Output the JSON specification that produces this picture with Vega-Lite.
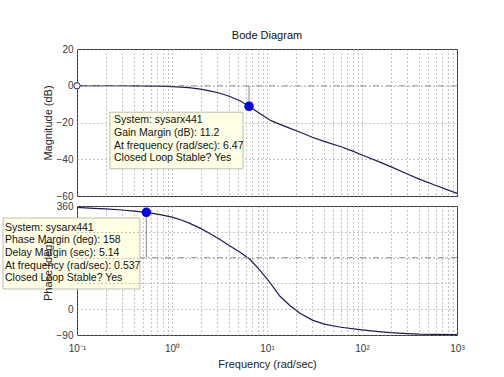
{
  "$schema": "https://vega.github.io/schema/vega-lite/v6.json",
  "padding": {"left": 1, "top": 29, "right": 5, "bottom": 5},
  "background": "white",
  "spacing": -2,
  "config": {
    "font": "Liberation Sans",
    "view": {"stroke": "#333333", "strokeWidth": 1},
    "axis": {
      "gridColor": "#8a8a8a",
      "gridDash": [1, 3],
      "gridOpacity": 1,
      "gridWidth": 1,
      "labelFont": "Liberation Sans",
      "labelFontSize": 10,
      "labelColor": "#3a3a3a",
      "titleFont": "Liberation Sans",
      "titleFontWeight": "normal",
      "titleFontSize": 11,
      "titleColor": "#222222",
      "domain": false,
      "ticks": false,
      "labelFlush": false,
      "labelOverlap": false
    }
  },
  "datasets": {
    "mag": [
      {"f": 0.1, "v": 0}, {"f": 0.15, "v": 0}, {"f": 0.2, "v": 0}, {"f": 0.3, "v": 0},
      {"f": 0.4, "v": -0.05}, {"f": 0.5, "v": -0.1}, {"f": 0.6, "v": -0.15}, {"f": 0.75, "v": -0.25},
      {"f": 1, "v": -0.45}, {"f": 1.25, "v": -0.7}, {"f": 1.5, "v": -1.0}, {"f": 2, "v": -1.8},
      {"f": 2.5, "v": -2.8}, {"f": 3.2, "v": -4.1}, {"f": 4, "v": -5.7}, {"f": 5.2, "v": -8.2},
      {"f": 6.47, "v": -11.2}, {"f": 8.4, "v": -15.1}, {"f": 11, "v": -19}, {"f": 13.7, "v": -21},
      {"f": 17.5, "v": -23.2}, {"f": 22.3, "v": -25.3}, {"f": 30, "v": -28}, {"f": 40, "v": -30.3},
      {"f": 60, "v": -33.2}, {"f": 80, "v": -35.6}, {"f": 100, "v": -37.7}, {"f": 150, "v": -41.3},
      {"f": 200, "v": -44}, {"f": 300, "v": -48}, {"f": 400, "v": -50.8}, {"f": 600, "v": -54.3},
      {"f": 1000, "v": -58.6}
    ],
    "phase": [
      {"f": 0.1, "v": 355}, {"f": 0.15, "v": 352}, {"f": 0.2, "v": 350}, {"f": 0.3, "v": 346},
      {"f": 0.4, "v": 342}, {"f": 0.537, "v": 338}, {"f": 0.75, "v": 330}, {"f": 1, "v": 321},
      {"f": 1.25, "v": 311}, {"f": 1.5, "v": 301}, {"f": 2, "v": 282}, {"f": 2.5, "v": 264},
      {"f": 3.2, "v": 243}, {"f": 4, "v": 222}, {"f": 5.2, "v": 199}, {"f": 6.6, "v": 174},
      {"f": 8.4, "v": 136}, {"f": 10.8, "v": 92}, {"f": 13.7, "v": 45}, {"f": 17.5, "v": 12},
      {"f": 22.3, "v": -14}, {"f": 30, "v": -38}, {"f": 40, "v": -52}, {"f": 60, "v": -63},
      {"f": 100, "v": -72}, {"f": 150, "v": -78}, {"f": 200, "v": -82}, {"f": 300, "v": -85},
      {"f": 400, "v": -87}, {"f": 600, "v": -88}, {"f": 1000, "v": -88.5}
    ],
    "gm": [{"f": 6.47, "v": -11.2, "ref": 0}],
    "pm": [{"f": 0.537, "v": 338, "ref": 180}],
    "gmbox": [{"f": 0.222, "f2": 5.59, "v": -14.4, "v2": -45.2, "tf": 0.245, "tv": -16.0,
      "text": ["System: sysarx441", "Gain Margin (dB): 11.2", "At frequency (rad/sec): 6.47", "Closed Loop Stable? Yes"]}],
    "pmbox": [{"f": 0.01663, "f2": 0.46, "v": 318.1, "v2": 70.5, "tf": 0.01746, "tv": 302.4,
      "text": ["System: sysarx441", "Phase Margin (deg): 158", "Delay Margin (sec): 5.14", "At frequency (rad/sec): 0.537", "Closed Loop Stable? Yes"]}]
  },
  "vconcat": [
    {
      "width": 380,
      "height": 147,
      "title": {"text": "Bode Diagram", "frame": "group", "fontSize": 11, "fontWeight": "normal", "offset": 3, "color": "#111111", "font": "Liberation Sans"},
      "layer": [
        {
          "data": {"name": "mag"},
          "mark": {"type": "line", "color": "#1c1c5c", "strokeWidth": 1.2},
          "encoding": {
            "x": {"field": "f", "type": "quantitative",
              "scale": {"type": "log", "domain": [0.1, 1000], "nice": false},
              "axis": {"values": [0.1,0.2,0.3,0.4,0.5,0.6,0.7,0.8,0.9,1,2,3,4,5,6,7,8,9,10,20,30,40,50,60,70,80,90,100,200,300,400,500,600,700,800,900,1000],
                "tickCount": 200, "labels": false, "title": null, "grid": true, "labelPadding": 0, "minExtent": 0, "maxExtent": 0, "offset": 0}},
            "y": {"field": "v", "type": "quantitative",
              "scale": {"domain": [-60, 20], "nice": false},
              "axis": {"values": [-60, -40, -20, 0, 20], "tickCount": 200, "format": "d", "title": "Magnitude (dB)", "labelPadding": 4, "titlePadding": 3, "grid": true, "labelOverlap": false}}
          }
        },
        {
          "data": {"name": "gm"},
          "mark": {"type": "rule", "color": "#9a9a9a", "strokeDash": [6, 3, 1, 3], "strokeWidth": 1},
          "encoding": {"y": {"field": "ref", "type": "quantitative"}}
        },
        {
          "data": {"name": "gm"},
          "mark": {"type": "rule", "color": "#8a8a8a", "strokeWidth": 1},
          "encoding": {
            "x": {"field": "f", "type": "quantitative"},
            "y": {"field": "v", "type": "quantitative"},
            "y2": {"field": "ref"}
          }
        },
        {
          "data": {"name": "mag"},
          "transform": [{"filter": "datum.f == 0.1"}],
          "mark": {"type": "point", "shape": "circle", "filled": true, "fill": "white", "stroke": "#1c1c5c", "strokeWidth": 1, "size": 40, "opacity": 1},
          "encoding": {
            "x": {"field": "f", "type": "quantitative"},
            "y": {"field": "v", "type": "quantitative"}
          }
        },
        {
          "data": {"name": "gm"},
          "mark": {"type": "point", "shape": "circle", "filled": true, "color": "#0000ee", "size": 90, "opacity": 1},
          "encoding": {
            "x": {"field": "f", "type": "quantitative"},
            "y": {"field": "v", "type": "quantitative"}
          }
        },
        {
          "data": {"name": "gmbox"},
          "mark": {"type": "rect", "fill": "#ffffe6", "stroke": "#bdbdae", "strokeWidth": 1},
          "encoding": {
            "x": {"field": "f", "type": "quantitative"},
            "x2": {"field": "f2"},
            "y": {"field": "v", "type": "quantitative"},
            "y2": {"field": "v2"}
          }
        },
        {
          "data": {"name": "gmbox"},
          "mark": {"type": "text", "align": "left", "baseline": "top", "fontSize": 10.5, "lineHeight": 12.7, "color": "#111111", "font": "Liberation Sans"},
          "encoding": {
            "x": {"field": "tf", "type": "quantitative"},
            "y": {"field": "tv", "type": "quantitative"},
            "text": {"field": "text"}
          }
        }
      ]
    },
    {
      "width": 380,
      "height": 129,
      "layer": [
        {
          "data": {"name": "phase"},
          "mark": {"type": "line", "color": "#1c1c5c", "strokeWidth": 1.2},
          "encoding": {
            "x": {"field": "f", "type": "quantitative",
              "scale": {"type": "log", "domain": [0.1, 1000], "nice": false},
              "axis": {"values": [0.1,0.2,0.3,0.4,0.5,0.6,0.7,0.8,0.9,1,2,3,4,5,6,7,8,9,10,20,30,40,50,60,70,80,90,100,200,300,400,500,600,700,800,900,1000],
                "tickCount": 200,
                "labelExpr": "datum.value == 0.1 ? '10⁻¹' : datum.value == 1 ? '10⁰' : datum.value == 10 ? '10¹' : datum.value == 100 ? '10²' : datum.value == 1000 ? '10³' : ''",
                "title": "Frequency  (rad/sec)", "labelPadding": 8, "titlePadding": 5, "grid": true, "labelOverlap": false}},
            "y": {"field": "v", "type": "quantitative",
              "scale": {"domain": [-90, 360], "nice": false},
              "axis": {"values": [-90, 0, 90, 180, 270, 360], "tickCount": 200, "format": "d",
                "labelExpr": "datum.value == 90 || datum.value == 180 || datum.value == 270 ? '' : datum.label",
                "title": "Phase (deg)", "labelPadding": 4, "titlePadding": 3, "grid": true, "zindex": 1, "labelOverlap": false}}
          }
        },
        {
          "data": {"name": "pm"},
          "mark": {"type": "rule", "color": "#9a9a9a", "strokeDash": [6, 3, 1, 3], "strokeWidth": 1},
          "encoding": {"y": {"field": "ref", "type": "quantitative"}}
        },
        {
          "data": {"name": "pm"},
          "mark": {"type": "rule", "color": "#8a8a8a", "strokeWidth": 1},
          "encoding": {
            "x": {"field": "f", "type": "quantitative"},
            "y": {"field": "v", "type": "quantitative"},
            "y2": {"field": "ref"}
          }
        },
        {
          "data": {"name": "pm"},
          "mark": {"type": "point", "shape": "circle", "filled": true, "color": "#0000ee", "size": 90, "opacity": 1},
          "encoding": {
            "x": {"field": "f", "type": "quantitative"},
            "y": {"field": "v", "type": "quantitative"}
          }
        },
        {
          "data": {"name": "pmbox"},
          "mark": {"type": "rect", "fill": "#ffffe6", "stroke": "#bdbdae", "strokeWidth": 1},
          "encoding": {
            "x": {"field": "f", "type": "quantitative"},
            "x2": {"field": "f2"},
            "y": {"field": "v", "type": "quantitative"},
            "y2": {"field": "v2"}
          }
        },
        {
          "data": {"name": "pmbox"},
          "mark": {"type": "text", "align": "left", "baseline": "top", "fontSize": 10.5, "lineHeight": 12.7, "color": "#111111", "font": "Liberation Sans"},
          "encoding": {
            "x": {"field": "tf", "type": "quantitative"},
            "y": {"field": "tv", "type": "quantitative"},
            "text": {"field": "text"}
          }
        }
      ]
    }
  ]
}
